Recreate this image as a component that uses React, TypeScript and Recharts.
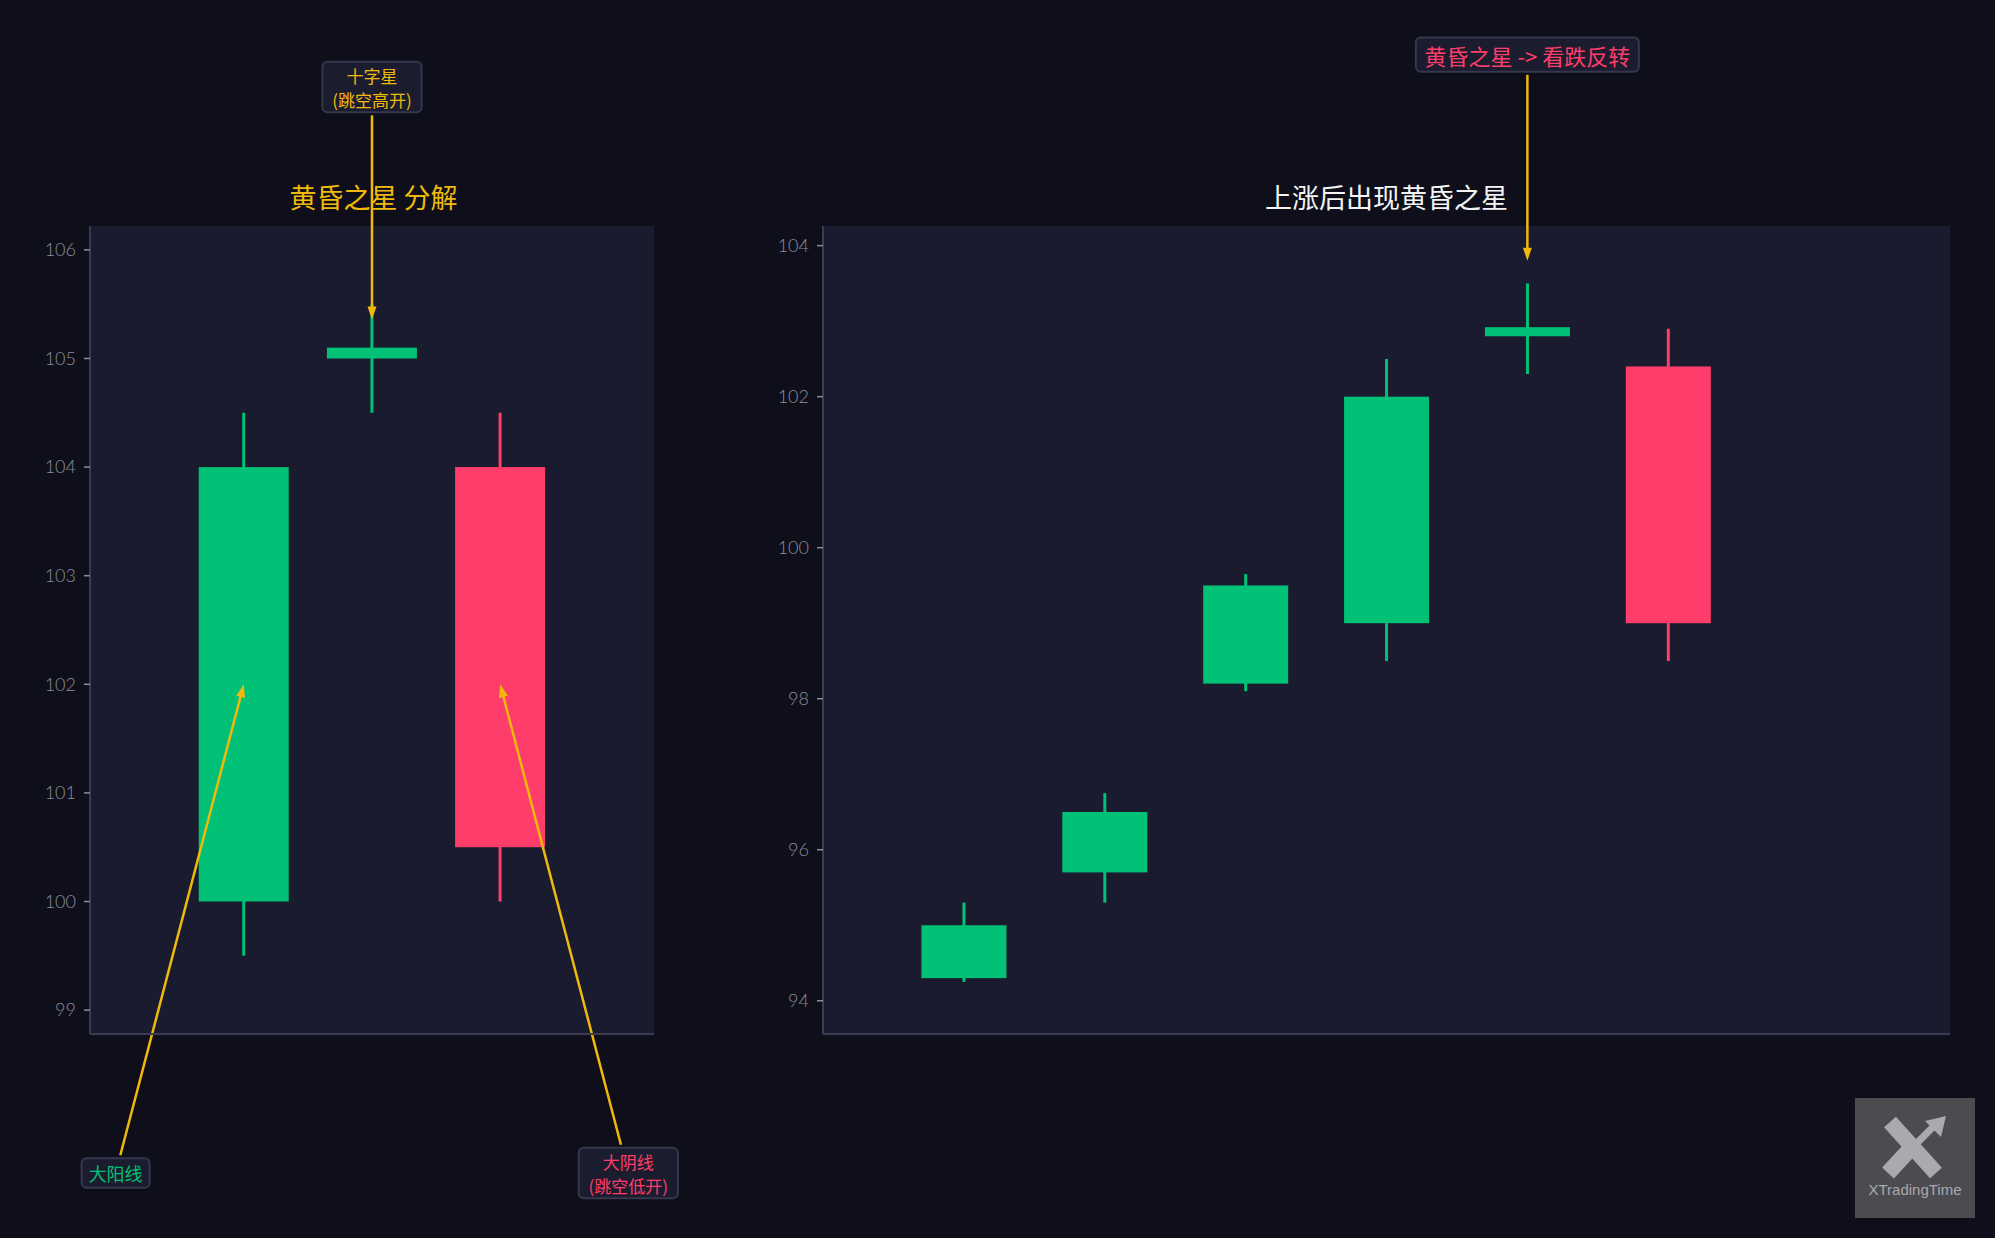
import React from 'react';
import { ComposedChart, Bar, XAxis, YAxis, CartesianGrid, ReferenceLine } from 'recharts';

// colours
const PAGE_BG = '#0e0f1a';
const PLOT_BG = '#1a1b2e';
const AXIS = '#3b3c52';
const TICK_TEXT = '#8c8d9a';
const GREEN = '#00c176';
const RED = '#ff3d6b';
const GOLD = '#f0b90b';
const BOX_FILL = '#1b1c2e';
const BOX_STROKE = '#35374c';
const CJK = '"Noto Sans CJK SC", "Noto Sans", sans-serif';

// 左：黄昏之星 分解
const leftIdx = [0, 1, 2];
const leftOpen = [100, 105, 104];
const leftHigh = [104.5, 105.5, 104.5];
const leftLow = [99.5, 104.5, 100];
const leftClose = [104, 105.1, 100.5];
const leftTicks = [99, 100, 101, 102, 103, 104, 105, 106];

// 右：上涨后出现黄昏之星
const rightIdx = [0, 1, 2, 3, 4, 5];
const rightOpen = [94.3, 95.7, 98.2, 99.0, 102.8, 102.4];
const rightHigh = [95.3, 96.75, 99.65, 102.5, 103.5, 102.9];
const rightLow = [94.25, 95.3, 98.1, 98.5, 102.3, 98.5];
const rightClose = [95.0, 96.5, 99.5, 102.0, 102.92, 99.0];
const rightTicks = [94, 96, 98, 100, 102, 104];

type Note = { lines: string[]; color: string; at: [number, number]; text: [number, number]; size: number };

// 注释：箭头指向 at，文字框中心在 text（数据坐标）
const leftNotes: Note[] = [
  { lines: ['十字星', '(跳空高开)'], color: GOLD, at: [1, 105.36], text: [1, 107.5], size: 17 },
  { lines: ['大阳线'], color: GREEN, at: [0, 102], text: [-1, 97.5], size: 18 },
  { lines: ['大阴线', '(跳空低开)'], color: RED, at: [2, 102], text: [3, 97.5], size: 17 },
];
const rightNotes: Note[] = [
  { lines: ['黄昏之星 -> 看跌反转'], color: RED, at: [4, 103.8], text: [4, 106.53], size: 22 },
];

const toRows = (idx: number[], o: number[], h: number[], l: number[], c: number[]) =>
  idx.map((i, k) => ({ i, open: o[k], high: h[k], low: l[k], close: c[k] }));

const leftRows = toRows(leftIdx, leftOpen, leftHigh, leftLow, leftClose);
const rightRows = toRows(rightIdx, rightOpen, rightHigh, rightLow, rightClose);

function Candle(props: any) {
  const { x, y, width, height, payload } = props;
  const { open, close, high, low } = payload;
  const top = Math.min(y, y + height);
  const span = Math.abs(height);
  const py = (v: number) => top + ((high - v) / (high - low)) * span;
  const color = close >= open ? GREEN : RED;
  const cx = x + width / 2;
  const bTop = py(Math.max(open, close));
  const bBot = py(Math.min(open, close));
  return (
    <g>
      <line x1={cx} x2={cx} y1={top} y2={top + span} stroke={color} strokeWidth={3} />
      <rect x={x} y={bTop} width={width} height={Math.max(bBot - bTop, 1)} fill={color} />
    </g>
  );
}

// 粗略估算文字宽度
function textWidth(s: string, size: number) {
  let w = 0;
  for (const ch of s) {
    if (/[\u3000-\u9fff\uff00-\uffef]/.test(ch)) w += size;
    else if (ch === ' ') w += size * 0.25;
    else if (ch === '(' || ch === ')') w += size * 0.33;
    else w += size * 0.5;
  }
  return w;
}

function Callout({ p, note }: { p: any; note: Note }) {
  const cx = p.x1, cy = p.y1, tx = p.x2, ty = p.y2;
  const multi = note.lines.length > 1;
  const lh = multi ? 24.8 : note.size * 1.2;
  const boxW = Math.max(...note.lines.map((s) => textWidth(s, note.size))) + (multi ? 20 : 14);
  const boxH = note.lines.length * lh + (multi ? 1 : 8);
  const dx = tx - cx, dy = ty - cy;
  const len = Math.hypot(dx, dy);
  const ux = dx / len, uy = dy / len;
  const gap = 3;
  const t = Math.min(
    Math.abs(ux) > 1e-6 ? (boxW / 2 + gap) / Math.abs(ux) : Infinity,
    Math.abs(uy) > 1e-6 ? (boxH / 2 + gap) / Math.abs(uy) : Infinity
  );
  const sx = cx + ux * t, sy = cy + uy * t;
  const head = 13, hw = 4.5;
  const bx = tx - ux * head, by = ty - uy * head;
  const nx = -uy, ny = ux;
  const y0 = cy - ((note.lines.length - 1) * lh) / 2;
  return (
    <g>
      <line x1={sx} y1={sy} x2={bx + ux * 2} y2={by + uy * 2} stroke={GOLD} strokeWidth={2.5} />
      <polygon
        points={`${tx},${ty} ${bx + nx * hw},${by + ny * hw} ${bx - nx * hw},${by - ny * hw}`}
        fill={GOLD}
      />
      <rect
        x={cx - boxW / 2}
        y={cy - boxH / 2}
        width={boxW}
        height={boxH}
        rx={5}
        fill={BOX_FILL}
        stroke={BOX_STROKE}
        strokeWidth={2}
      />
      <text
        x={cx}
        y={y0}
        textAnchor="middle"
        dominantBaseline="central"
        fill={note.color}
        fontSize={note.size}
        fontFamily={CJK}
      >
        {note.lines.map((s, k) => (
          <tspan key={k} x={cx} y={y0 + k * lh}>
            {s}
          </tspan>
        ))}
      </text>
    </g>
  );
}

function CandlePanel({
  rows,
  notes,
  xDomain,
  yDomain,
  yTicks,
  width,
  margin,
  barSize,
}: {
  rows: any[];
  notes: Note[];
  xDomain: [number, number];
  yDomain: [number, number];
  yTicks: number[];
  width: number;
  margin: { top: number; right: number; bottom: number; left: number };
  barSize: number;
}) {
  return (
    <ComposedChart width={width} height={1238} data={rows} margin={margin}>
      <CartesianGrid fill={PLOT_BG} stroke="none" horizontal={false} vertical={false} />
      <XAxis
        type="number"
        dataKey="i"
        domain={xDomain}
        ticks={rows.map((r) => r.i)}
        allowDataOverflow
        tick={false}
        tickLine={false}
        axisLine={{ stroke: AXIS, strokeWidth: 2 }}
        height={2}
      />
      <YAxis
        type="number"
        domain={yDomain}
        ticks={yTicks}
        allowDataOverflow
        width={60}
        tickSize={6}
        tickMargin={8}
        axisLine={{ stroke: AXIS, strokeWidth: 2 }}
        tickLine={{ stroke: TICK_TEXT, strokeWidth: 1.5 }}
        tick={{ fill: TICK_TEXT, fontSize: 18, fontFamily: 'Lato, "Noto Sans", sans-serif', fontWeight: 300 }}
      />
      <Bar
        dataKey={(d: any) => [d.low, d.high]}
        barSize={barSize}
        shape={(p: any) => <Candle {...p} />}
        isAnimationActive={false}
      />
      {notes.map((n, k) => (
        <ReferenceLine
          key={k}
          segment={[
            { x: n.text[0], y: n.text[1] },
            { x: n.at[0], y: n.at[1] },
          ]}
          ifOverflow="visible"
          shape={(p: any) => <Callout p={p} note={n} />}
        />
      ))}
    </ComposedChart>
  );
}

export default function App() {
  return (
    <div style={{ position: 'relative', width: 1995, height: 1238, background: PAGE_BG, overflow: 'hidden' }}>
      <style>{`body{margin:0;background:${PAGE_BG};}`}</style>
      <div style={{ position: 'absolute', left: 1, top: 0 }}>
        <CandlePanel
          rows={leftRows}
          notes={leftNotes}
          xDomain={[-1.2, 3.2]}
          yDomain={[98.78, 106.22]}
          yTicks={leftTicks}
          width={720}
          margin={{ top: 226, right: 67, bottom: 202, left: 29 }}
          barSize={90}
        />
      </div>
      <div style={{ position: 'absolute', left: 720, top: 0 }}>
        <CandlePanel
          rows={rightRows}
          notes={rightNotes}
          xDomain={[-1, 7]}
          yDomain={[93.56, 104.26]}
          yTicks={rightTicks}
          width={1275}
          margin={{ top: 226, right: 45, bottom: 202, left: 43 }}
          barSize={85}
        />
      </div>
      <svg
        width={1995}
        height={1238}
        style={{ position: 'absolute', left: 0, top: 0, pointerEvents: 'none' }}
      >
        <text x={373.5} y={196} textAnchor="middle" dominantBaseline="central" fill={GOLD} fontSize={27} fontWeight={400} fontFamily={CJK}>
          黄昏之星 分解
        </text>
        <text x={1386.5} y={196} textAnchor="middle" dominantBaseline="central" fill="#f4f4f4" fontSize={27} fontWeight={400} fontFamily={CJK}>
          上涨后出现黄昏之星
        </text>
        {/* logo */}
        <rect x={1855} y={1098} width={120} height={120} fill="#4b4b50" />
        <g stroke="#a9a9ae" strokeLinecap="butt">
          <line x1={1890} y1={1122} x2={1936} y2={1173} strokeWidth={16} />
          <line x1={1888} y1={1173} x2={1913} y2={1146} strokeWidth={16} />
          <line x1={1911} y1={1149} x2={1934} y2={1126} strokeWidth={7} />
        </g>
        <polygon points="1946,1116 1925,1121 1941,1137" fill="#a9a9ae" />
        <text x={1915} y={1189} textAnchor="middle" dominantBaseline="central" fill="#a9a9ae" fontSize={15} fontFamily='"Liberation Sans", Arial, sans-serif'>
          XTradingTime
        </text>
      </svg>
    </div>
  );
}
